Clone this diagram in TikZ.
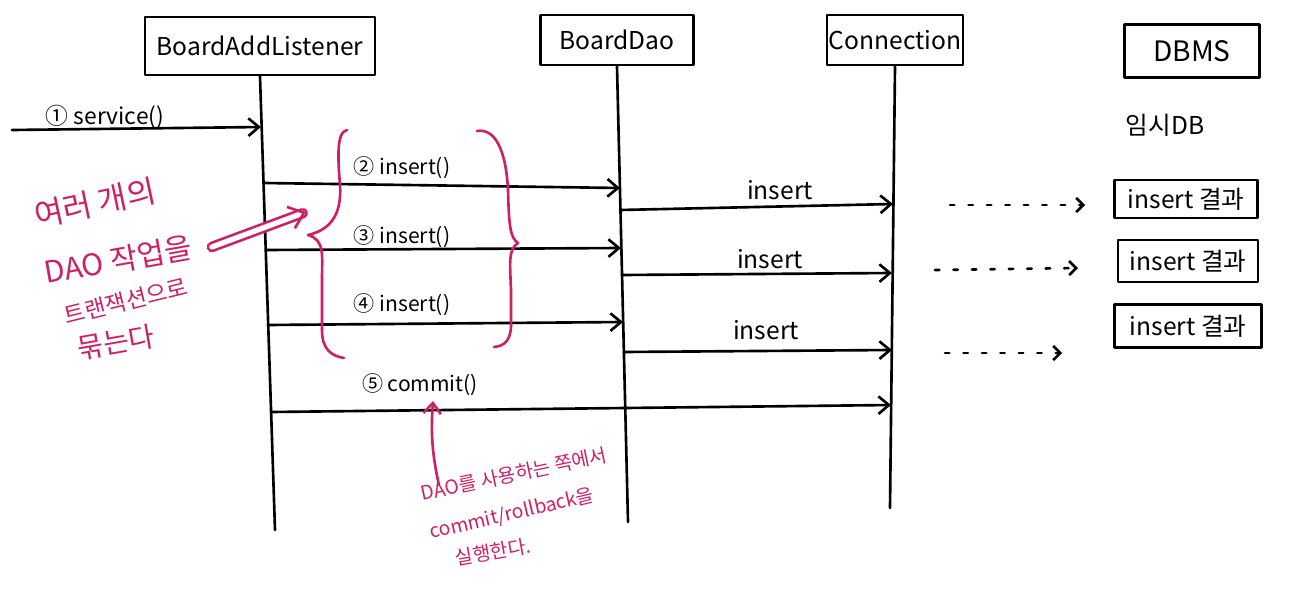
\documentclass[tikz,border=0pt]{standalone}
\usepackage{fontspec}
\setmainfont{Noto Sans CJK KR}
\usepackage{xcolor}
\usetikzlibrary{arrows.meta, positioning}
\definecolor{mypink}{RGB}{205,32,102}
\tikzset{
  >={Straight Barb[length=6pt,width=10pt]}, % open hand-drawn style head
  pen/.style={line width=1.5pt, line cap=round, line join=round},
  actor/.style={pen, draw, rectangle, inner sep=0pt, font=\fontsize{14}{16}\selectfont},
  lifeline/.style={pen},
  msg/.style={pen, ->},
  msg label/.style={inner sep=1pt, font=\fontsize{12}{14}\selectfont},
  db call/.style={pen, dash pattern=on 2.5pt off 8pt, -{Straight Barb[length=4pt,width=8pt]}},
  result/.style={pen, draw, rectangle, inner sep=0pt, font=\fontsize{14}{16}\selectfont},
  note/.style={text=mypink, inner sep=0pt},
  note arrow/.style={pen, draw=mypink, ->},
  brace/.style={pen, draw=mypink}
}

\begin{document}
\begin{tikzpicture}[x=0.2mm, y=-0.2mm]
  \useasboundingbox (0,0) rectangle (1299,594);

  % Objects
  \node[actor, minimum width=46mm, minimum height=11.6mm] (lst) at (260,46) {BoardAddListener};
  \node[actor, minimum width=30.6mm, minimum height=10mm] (dao) at (617,40) {BoardDao};
  \node[actor, minimum width=27.2mm, minimum height=10mm] (con) at (895,40) {Connection};
  \node[actor, minimum width=27mm, minimum height=10.6mm, font=\fontsize{16}{18}\selectfont] (dbms) at (1192,51) {DBMS};
  \node[inner sep=0pt, font=\fontsize{14}{16}\selectfont] (tmpdb) at (1165,125) {임시DB};

  % Lifelines
  \coordinate (lstend) at (275,530);
  \coordinate (daoend) at (628,522);
  \coordinate (conend) at (890,508);
  \draw[lifeline] (lst.south) -- (lstend);
  \draw[lifeline] (dao.south) -- (daoend);
  \draw[lifeline] (con.south) -- (conend);

  % Message end points on the lifelines
  \coordinate (start) at (12,130);
  \coordinate (l1) at (261,127);
  \coordinate (l2) at (264,183);
  \coordinate (l3) at (266,250);
  \coordinate (l4) at (268,325);
  \coordinate (l5) at (271,412);
  \coordinate (d2) at (620,188);
  \coordinate (d3) at (621,248);
  \coordinate (d4) at (623,322);
  \coordinate (e2) at (620,210);
  \coordinate (e3) at (622,275);
  \coordinate (e4) at (624,352);
  \coordinate (c2) at (893,204);
  \coordinate (c3) at (892,273);
  \coordinate (c4) at (892,350);
  \coordinate (c5) at (891,405);

  % Calls from the listener
  \draw[msg] (start) -- (l1);
  \draw[msg] (l2) -- (d2);
  \draw[msg] (l3) -- (d3);
  \draw[msg] (l4) -- (d4);
  \draw[msg] (l5) -- (c5);
  \node[msg label, font=\fontsize{13}{15}\selectfont] (m1) at (105,117) {① service()};
  \node[msg label] (m2) at (402,168) {② insert()};
  \node[msg label] (m3) at (402,237) {③ insert()};
  \node[msg label] (m4) at (402,305) {④ insert()};
  \node[msg label] (m5) at (420,385) {⑤ commit()};

  % Calls from the DAO to the connection
  \draw[msg] (e2) -- (c2);
  \draw[msg] (e3) -- (c3);
  \draw[msg] (e4) -- (c4);
  \node[msg label, font=\fontsize{14}{16}\selectfont] (i2) at (780,190) {insert};
  \node[msg label, font=\fontsize{14}{16}\selectfont] (i3) at (770,259) {insert};
  \node[msg label, font=\fontsize{14}{16}\selectfont] (i4) at (766,330) {insert};

  % Results in the DBMS
  \node[result, minimum width=28.6mm, minimum height=7.6mm] (r1) at (1186,199) {insert 결과};
  \node[result, minimum width=28mm, minimum height=8.4mm] (r2) at (1188,261) {insert 결과};
  \node[result, minimum width=29.4mm, minimum height=8.6mm] (r3) at (1188,326) {insert 결과};
  \coordinate (q1s) at (950,205);
  \coordinate (q1e) at (1085,205);
  \coordinate (q2s) at (935,270);
  \coordinate (q2e) at (1078,268);
  \coordinate (q3s) at (945,353);
  \coordinate (q3e) at (1062,353);
  \draw[db call] (q1s) -- (q1e);
  \draw[db call] (q2s) -- (q2e);
  \draw[db call] (q3s) -- (q3e);

  % Transaction braces
  \draw[brace] (347,130) .. controls (336,132) and (338,160) .. (340,185)
    .. controls (342,215) and (330,230) .. (308,235)
    .. controls (325,240) and (322,255) .. (322,280)
    -- (322,330) .. controls (322,350) and (332,356) .. (344,358);
  \draw[brace] (477,131) .. controls (495,128) and (506,150) .. (508,190)
    .. controls (509,225) and (510,238) .. (518,243)
    .. controls (508,250) and (510,262) .. (511,290)
    -- (511,320) .. controls (512,340) and (505,346) .. (494,347);

  % Notes
  \node[note, rotate=12, font=\fontsize{18}{20}\selectfont] (grp1) at (95,203) {여러 개의};
  \node[note, rotate=10, font=\fontsize{17}{19}\selectfont] (grp2) at (118,260) {DAO 작업을};
  \node[note, rotate=14, font=\fontsize{13}{15}\selectfont] (grp3) at (126,301) {트랜잭션으로};
  \node[note, rotate=10, font=\fontsize{16}{18}\selectfont] (grp4) at (116,342) {묶는다};
  \coordinate (lbrace) at (306,212);
  \draw[note arrow, double, double distance=3pt, -{Straight Barb[length=8pt,width=13pt]}] ([xshift=4mm]grp2.east) -- (lbrace);

  \node[note, rotate=12, font=\fontsize{11}{13}\selectfont] (cnote1) at (514,474) {DAO를 사용하는 쪽에서};
  \node[note, rotate=13, font=\fontsize{11}{13}\selectfont] (cnote2) at (512,514) {commit/rollback을};
  \node[note, rotate=10, font=\fontsize{11}{13}\selectfont] (cnote3) at (493,552) {실행한다.};
  \coordinate (cmt) at (433,401);
  \draw[note arrow] ([xshift=4mm]cnote1.north west) to[bend left=8] (cmt);
\end{tikzpicture}
\end{document}
